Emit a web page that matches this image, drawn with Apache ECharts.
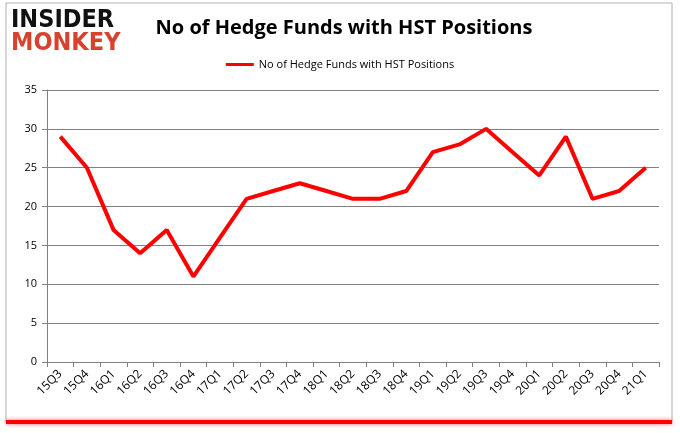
<!DOCTYPE html>
<html><head><meta charset="utf-8">
<script src="https://cdn.jsdelivr.net/npm/echarts@6/dist/echarts.min.js"></script>
<style>html,body{margin:0;padding:0;background:#fff}#c{width:680px;height:433px}</style>
</head><body><div id="c"></div>
<script>
var categories = ['15Q3','15Q4','16Q1','16Q2','16Q3','16Q4','17Q1','17Q2','17Q3','17Q4','18Q1','18Q2','18Q3','18Q4','19Q1','19Q2','19Q3','19Q4','20Q1','20Q2','20Q3','20Q4','21Q1'];
var hedgeFunds = [29,25,17,14,17,11,16,21,22,23,22,21,21,22,27,28,30,27,24,29,21,22,25];
var seriesName = 'No of Hedge Funds with HST Positions';
var chartTitle = 'No of Hedge Funds with HST Positions';

var chart = echarts.init(document.getElementById('c'), null, {renderer:'canvas'});
chart.setOption({
  animation:false,
  backgroundColor:'#fff',
  title:{text:chartTitle,left:339,textAlign:'center',top:13,
    textStyle:{fontFamily:'Open Sans',fontSize:20,fontWeight:'bold',color:'#000'}},
  legend:{top:54,left:'center',itemWidth:28,itemHeight:3,icon:'rect',
    textStyle:{fontFamily:'Open Sans',fontSize:11,color:'#000'},
    data:[seriesName]},
  grid:{left:47,right:21,top:90,bottom:71},
  xAxis:{type:'category',data:categories,boundaryGap:true,
    axisLine:{lineStyle:{color:'#808080'}},
    axisTick:{show:true,alignWithLabel:false,lineStyle:{color:'#808080'}},
    axisLabel:{rotate:45,fontFamily:'Open Sans',fontSize:12,color:'#000',margin:10,interval:0}},
  yAxis:{type:'value',min:0,max:35,interval:5,
    axisLine:{show:true,lineStyle:{color:'#808080'}},
    axisTick:{show:true,lineStyle:{color:'#808080'}},
    splitLine:{lineStyle:{color:'#808080',width:1}},
    axisLabel:{fontFamily:'Open Sans',fontSize:11,color:'#000',margin:10}},
  series:[{name:seriesName,type:'line',data:hedgeFunds,symbol:'none',
    lineStyle:{color:'#ff0000',width:4},itemStyle:{color:'#ff0000'}}],
  graphic:[
    {type:'rect',shape:{x:6,y:3,width:666,height:419},style:{fill:'none',stroke:'#b0b0b0',lineWidth:1}},
    {type:'rect',shape:{x:6,y:420,width:666,height:4},style:{fill:'#ff0000',shadowBlur:4,shadowColor:'rgba(255,0,0,0.6)'}},
    {type:'text',left:11,top:8,style:{text:'INSIDER',fontFamily:'DejaVu Sans Condensed',fontWeight:'bold',fontSize:25,fill:'#111'}},
    {type:'text',left:11,top:31,style:{text:'MONKEY',fontFamily:'DejaVu Sans Condensed',fontWeight:'bold',fontSize:25,fill:'#d8412e'}}
  ]
});
</script></body></html>
